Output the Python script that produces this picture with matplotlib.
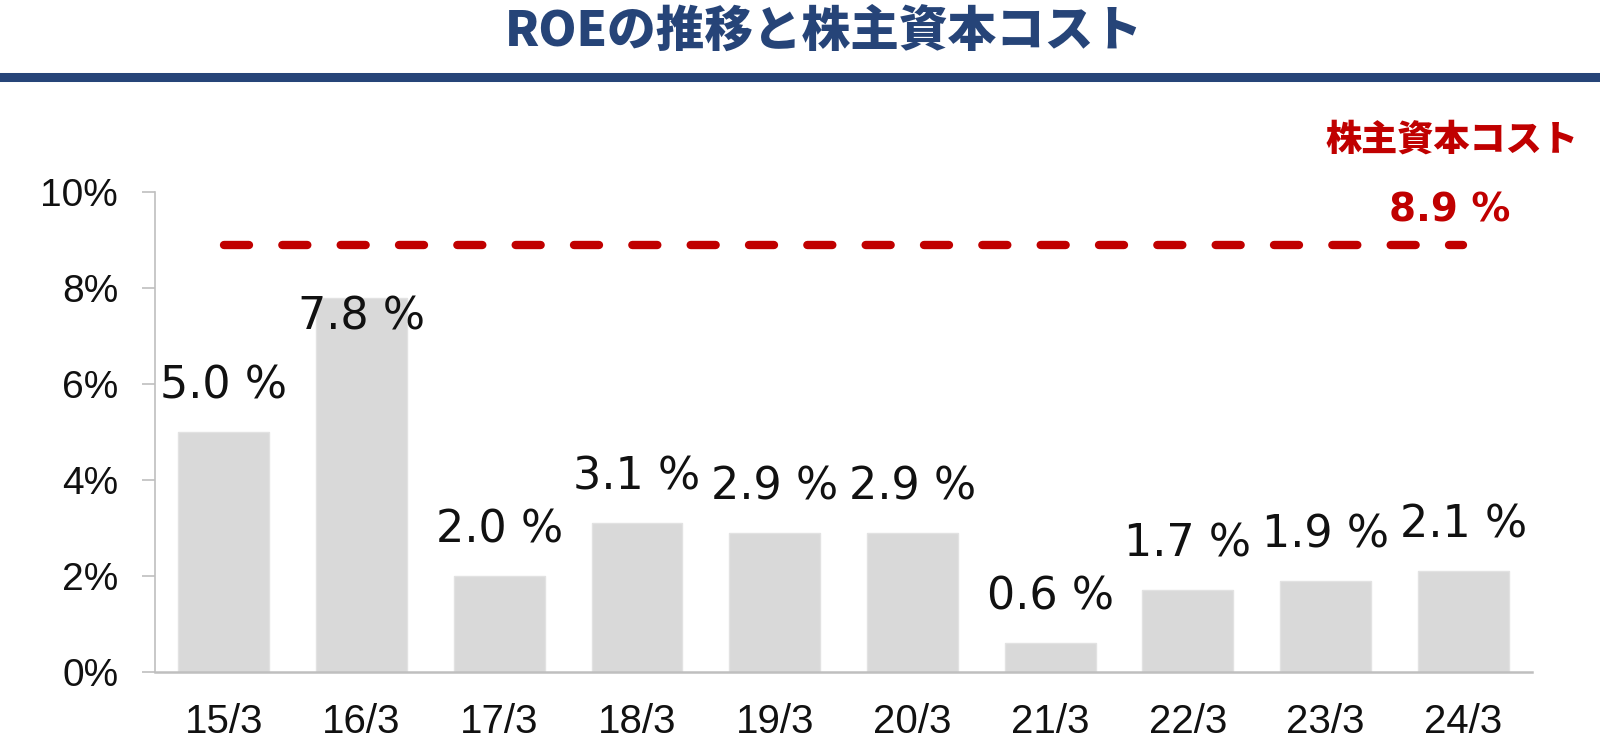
import matplotlib

matplotlib.use("Agg")
import matplotlib.pyplot as plt
from matplotlib.lines import Line2D

years = ["15/3", "16/3", "17/3", "18/3", "19/3", "20/3", "21/3", "22/3", "23/3", "24/3"]
roe = [5.0, 7.8, 2.0, 3.1, 2.9, 2.9, 0.6, 1.7, 1.9, 2.1]
cost_of_equity = 8.9
y_ticks = [0, 2, 4, 6, 8, 10]

plt.rcParams["font.family"] = ["Liberation Sans", "Noto Sans CJK JP"]
plt.rcParams["lines.scale_dashes"] = False

navy = "#264478"
red = "#c00000"
grey = "#bfbfbf"

fig = plt.figure(figsize=(16, 7.4), dpi=100)
ax = fig.add_axes([0.0969, 0.0919, 0.8606, 0.6486])

x = list(range(len(years)))
ax.bar(x, roe, width=0.66, color="#d9d9d9", edgecolor="#e2e2e2", linewidth=1, zorder=2)

# value labels (the 7.8 one sits inside the bar top, under the dashed line)
for xi, v in zip(x, roe):
    dy = 0.7 if v < 7 else -0.67
    ax.text(xi, v + dy, f"{v:.1f} %", ha="center", va="baseline",
            fontsize=32, family="DejaVu Sans", color="#111111", zorder=3)

# shareholders' equity cost line
ax.plot([0, len(years) - 1], [cost_of_equity, cost_of_equity], color=red,
        linewidth=6, dashes=(18, 24), dash_capstyle="round", zorder=4)

ax.set_xlim(-0.5, len(years) - 0.5)
ax.set_ylim(0, 10)
ax.set_xticks(x)
ax.set_xticklabels(years)
ax.set_yticks(y_ticks)
ax.set_yticklabels([f"{t}%" for t in y_ticks])
ax.tick_params(axis="x", length=0, pad=22, labelsize=29, labelcolor="#111111")
ax.tick_params(axis="y", length=9.5, width=1.2, color=grey, pad=17,
               labelsize=28, labelcolor="#111111")

for side in ["top", "right"]:
    ax.spines[side].set_visible(False)
ax.spines["left"].set_color(grey)
ax.spines["left"].set_linewidth(1.2)
ax.spines["bottom"].set_color(grey)
ax.spines["bottom"].set_linewidth(1.8)

# title and underline
fig.text(0.515, 0.958, "ROEの推移と株主資本コスト", ha="center", va="center",
         fontsize=35, fontweight="heavy", color=navy, family="Noto Sans CJK JP")
fig.add_artist(Line2D([0, 0.998], [0.8953, 0.8953], transform=fig.transFigure,
                      color=navy, linewidth=6.5))

fig.text(0.9075, 0.811, "株主資本コスト", ha="center", va="center",
         fontsize=26, fontweight="heavy", color=red, family="Noto Sans CJK JP")
fig.text(0.906, 0.716, f"{cost_of_equity} %", ha="center", va="center",
         fontsize=28, fontweight="bold", color=red, family="DejaVu Sans")

fig.savefig("out.png", dpi=100)
